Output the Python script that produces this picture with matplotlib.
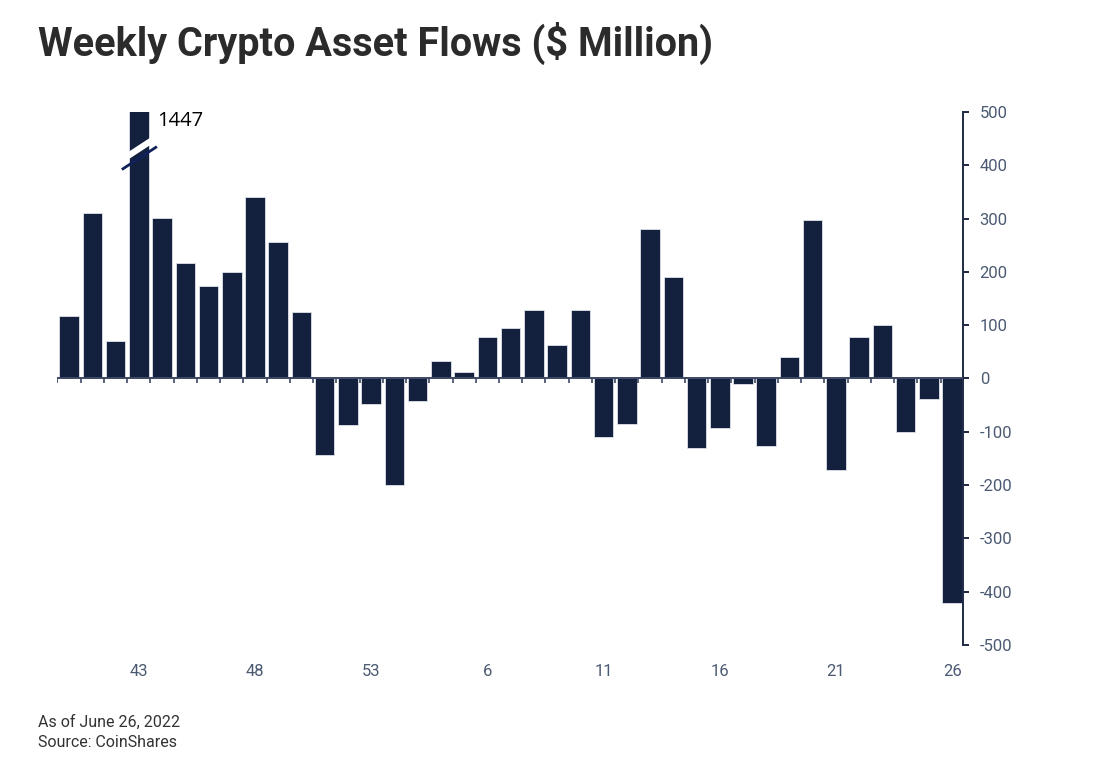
import matplotlib
matplotlib.use("Agg")
import matplotlib.pyplot as plt
import numpy as np

plt.rcParams["axes.unicode_minus"] = False

# weekly flows, $ million (week 40 of 2021 to week 26 of 2022)
weeks = list(range(40, 54)) + list(range(2, 27))
flows = [118, 310, 71, 1447, 301, 216, 173, 199, 341, 256, 125,
         -143, -87, -47, -199, -42, 33, 13, 77, 94, 129, 62, 128,
         -110, -85, 281, 191, -131, -93, -11, -127, 41, 298, -171,
         77, 100, -101, -39, -422]
label_weeks = [43, 48, 53, 6, 11, 16, 21, 26]
yticks = [500, 400, 300, 200, 100, 0, -100, -200, -300, -400, -500]

NAVY = "#13213f"
TICKCOL = "#4b5a72"

fig = plt.figure(figsize=(10.96, 7.82), dpi=100)
ax = fig.add_axes([0.052, 0.1752, 0.8267, 0.6816])

x = np.arange(len(weeks))
ax.bar(x, flows, width=0.84, color=NAVY, edgecolor="#dfe3ea", linewidth=0.6, zorder=2)
ax.set_xlim(-0.52, len(weeks) - 0.53)
ax.set_ylim(-500, 500)

# axis break on the big bar
big = flows.index(max(flows))
ax.plot([big - 0.73, big + 0.78], [410, 453], color="white", lw=4.5,
        solid_capstyle="butt", zorder=3, clip_on=False)
ax.plot([big - 0.73, big + 0.78], [392, 435], color="#10205a", lw=2.0,
        solid_capstyle="butt", zorder=4, clip_on=False)
ax.text(big + 0.78, 484, str(max(flows)), fontsize=14.5, color="black",
        family=["Open Sans", "DejaVu Sans"], va="center", ha="left")

# zero line with tick marks between bars
ax.axhline(0, color="#3d4862", lw=1.4, zorder=3)
bounds = np.arange(len(weeks) + 1) - 0.5
ax.vlines(bounds[:-1], -8, 0, color="#3d4862", lw=1.2, zorder=3)

for s in ["top", "left", "bottom"]:
    ax.spines[s].set_visible(False)
ax.spines["right"].set_color("#1f2a44")
ax.spines["right"].set_linewidth(1.4)

ax.yaxis.tick_right()
ax.set_yticks(yticks)
ax.tick_params(axis="y", direction="out", length=4, width=1.4, color="#1f2a44",
               labelsize=12, labelcolor=TICKCOL, pad=8)
ax.set_xticks([weeks.index(w) if i < 2 else len(weeks) - 1 - (len(label_weeks) - 1 - i) * 5
               for i, w in enumerate(label_weeks)])
ax.set_xticklabels([str(w) for w in label_weeks])
ax.tick_params(axis="x", length=0, labelsize=12, labelcolor=TICKCOL, pad=14)
for lab in ax.get_xticklabels() + ax.get_yticklabels():
    lab.set_family(["Roboto", "DejaVu Sans"])

fig.text(0.035, 0.944, "Weekly Crypto Asset Flows ($ Million)", fontsize=28.5,
         fontweight="bold", color="#2b2b2b", va="center", ha="left",
         family=["Roboto", "DejaVu Sans"])
fig.text(0.035, 0.077, "As of June 26, 2022", fontsize=11.5, color="#333333",
         va="center", family=["Roboto", "DejaVu Sans"])
fig.text(0.035, 0.051, "Source: CoinShares", fontsize=11.5, color="#333333",
         va="center", family=["Roboto", "DejaVu Sans"])

fig.savefig("out.png", dpi=100, facecolor="white")
